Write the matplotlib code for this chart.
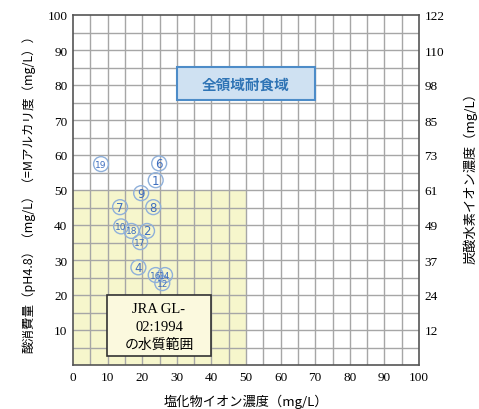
import matplotlib
matplotlib.use("Agg")
import matplotlib.pyplot as plt
from matplotlib.patches import Rectangle

# Data
labels = ["19", "6", "1", "9", "7", "8", "10", "18", "2", "17", "4", "16", "14", "12"]
chloride = [8.1, 24.9, 23.9, 19.7, 13.6, 23.2, 13.9, 16.9, 21.4, 19.4, 18.9, 23.9, 26.6, 25.8]
acid = [57.4, 57.6, 52.8, 49.1, 45.1, 45.1, 39.6, 38.3, 38.3, 35.1, 27.9, 25.7, 25.7, 23.4]

x_ticks = [0, 10, 20, 30, 40, 50, 60, 70, 80, 90, 100]
y_ticks = [10, 20, 30, 40, 50, 60, 70, 80, 90, 100]
right_tick_labels = ["12", "24", "37", "49", "61", "73", "85", "98", "110", "122"]

jp = ["Noto Sans CJK JP", "DejaVu Sans"]
serif = ["Liberation Serif", "DejaVu Serif"]

fig = plt.figure(figsize=(4.79, 4.10), dpi=100)
ax = fig.add_axes([73/479, 44/410, 346/479, 350/410])
ax.set_xlim(0, 100)
ax.set_ylim(0, 100)

# grid every 5
grid_c = "#a6a6a6"
for v in range(5, 100, 5):
    ax.axvline(v, color=grid_c, lw=1.0, zorder=1)
    ax.axhline(v, color=grid_c, lw=1.0, zorder=1)

# yellow region
ax.add_patch(Rectangle((0, 0), 50, 50, facecolor="#f6f6cc", edgecolor="none", zorder=0.5))

# boxes
ax.add_patch(Rectangle((30, 75.6), 40, 9.5, facecolor="#cfe1f2", edgecolor="#4d8cc8", lw=1.5, zorder=3))
ax.text(50, 80.35, "全領域耐食域", ha="center", va="center", fontsize=10.5, fontweight="bold",
        color="#2f74b5", family=jp, zorder=4)

ax.add_patch(Rectangle((9.8, 2.6), 30.1, 17.4, facecolor="#fbf9de", edgecolor="#333333", lw=1.2, zorder=3))
ax.text(24.85, 16.0, "JRA GL-", ha="center", va="center", fontsize=10.5, family=serif, zorder=4)
ax.text(24.85, 11.0, "02:1994", ha="center", va="center", fontsize=10.5, family=serif, zorder=4)
ax.text(24.85, 6.0, "の水質範囲", ha="center", va="center", fontsize=10, family=jp, zorder=4)

# points
ax.scatter(chloride, acid, s=115, facecolors="none", edgecolors="#8fb0da", linewidths=1.0, zorder=5)
for lab, xv, yv in zip(labels, chloride, acid):
    ax.text(xv, yv, lab, ha="center", va="center", fontsize=8.5 if len(lab) == 1 else 6.5,
            color="#3f6fbf", family=["Liberation Sans Narrow", "DejaVu Sans"], zorder=6)

ax.set_xticks(x_ticks)
ax.set_yticks(y_ticks)
ax.tick_params(length=0, labelsize=9.5, pad=4)
for t in ax.get_xticklabels() + ax.get_yticklabels():
    t.set_family(serif)
for s in ax.spines.values():
    s.set_color("#555555")
    s.set_linewidth(1.2)
    s.set_zorder(7)

ax2 = ax.twinx()
ax2.set_ylim(0, 100)
ax2.set_yticks(y_ticks)
ax2.set_yticklabels(right_tick_labels)
ax2.tick_params(length=0, labelsize=9.5, pad=4)
for t in ax2.get_yticklabels():
    t.set_family(serif)
for s in ax2.spines.values():
    s.set_visible(False)

ax.set_xlabel("塩化物イオン濃度（mg/L）", fontsize=9.5, family=jp, labelpad=8)
ax.set_ylabel("酸消費量（pH4.8）（mg/L）（=Mアルカリ度（mg/L））", fontsize=9, family=jp, labelpad=9)
fig.text(470/479, 1 - 175/410, "炭酸水素イオン濃度（mg/L）", rotation=90, ha="center", va="center",
         fontsize=9.5, family=jp)

fig.savefig("out.png", dpi=100)
